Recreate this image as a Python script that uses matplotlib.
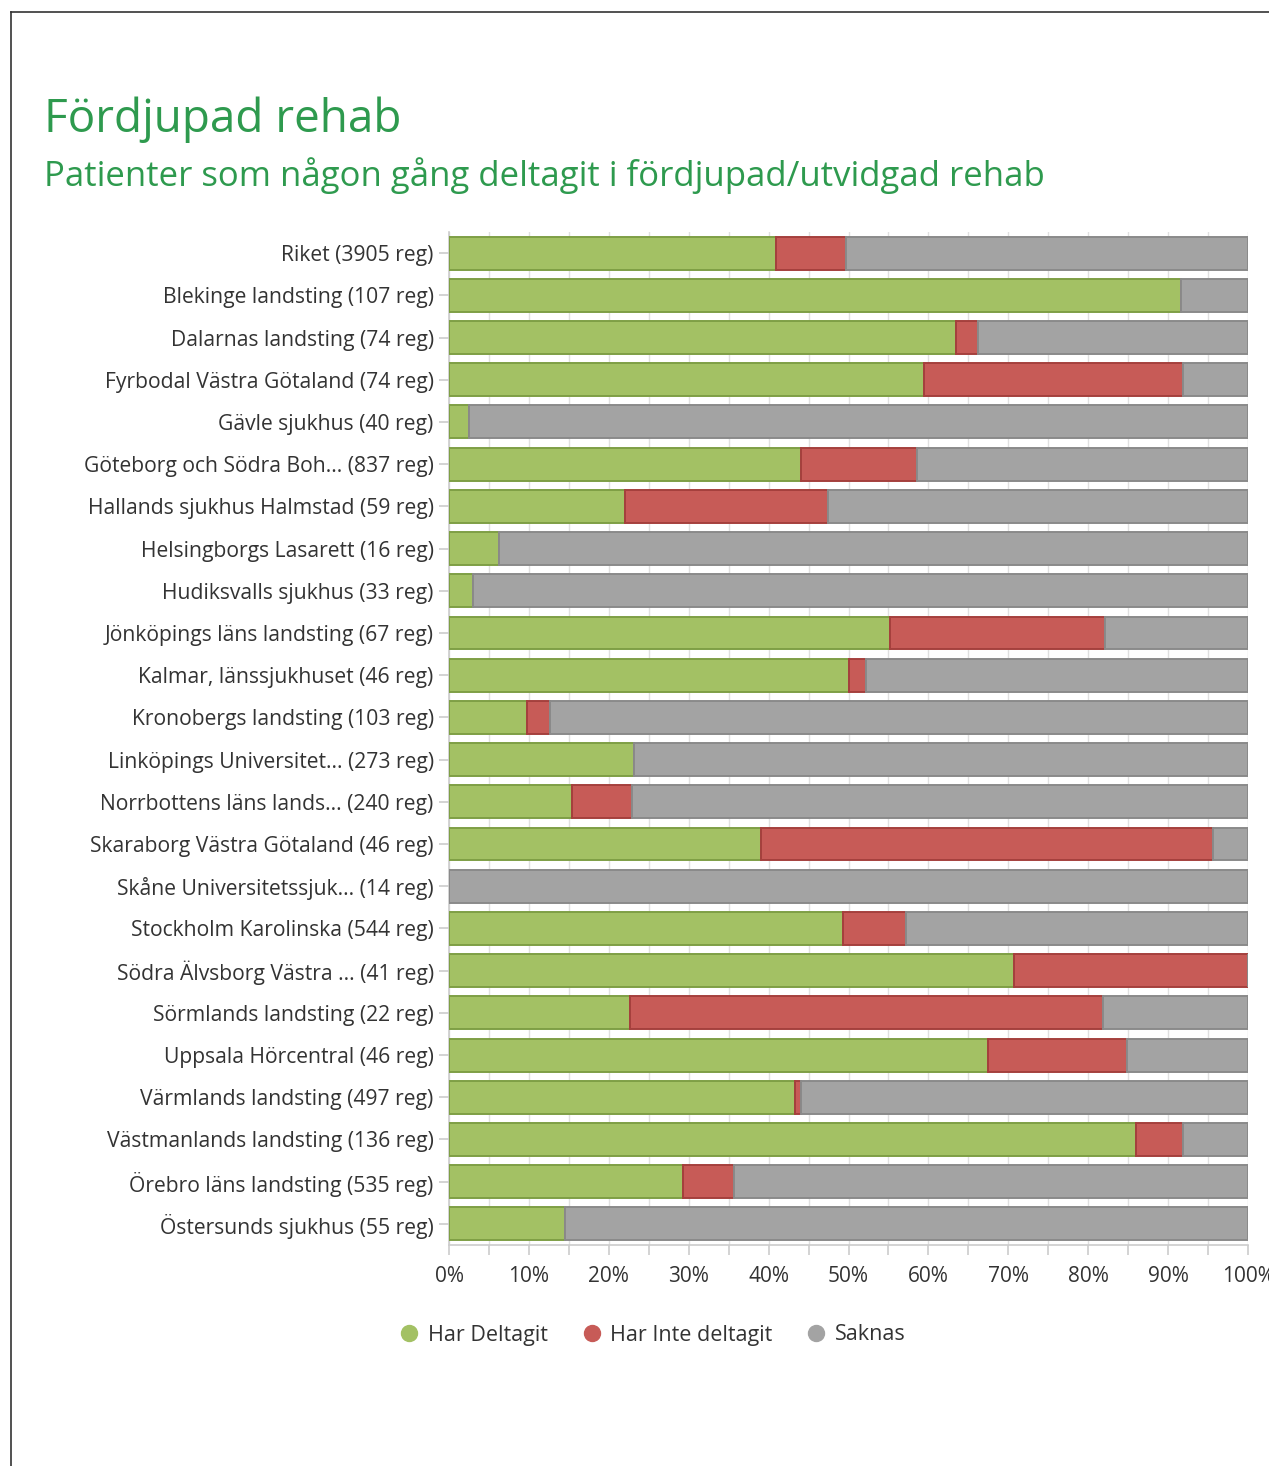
import matplotlib
matplotlib.use("Agg")
import matplotlib.pyplot as plt
from matplotlib.lines import Line2D
import numpy as np

plt.rcParams['font.family'] = ['Open Sans', 'DejaVu Sans']

categories = [
    "Riket (3905 reg)",
    "Blekinge landsting (107 reg)",
    "Dalarnas landsting (74 reg)",
    "Fyrbodal Västra Götaland (74 reg)",
    "Gävle sjukhus (40 reg)",
    "Göteborg och Södra Boh... (837 reg)",
    "Hallands sjukhus Halmstad (59 reg)",
    "Helsingborgs Lasarett (16 reg)",
    "Hudiksvalls sjukhus (33 reg)",
    "Jönköpings läns landsting (67 reg)",
    "Kalmar, länssjukhuset (46 reg)",
    "Kronobergs landsting (103 reg)",
    "Linköpings Universitet... (273 reg)",
    "Norrbottens läns lands... (240 reg)",
    "Skaraborg Västra Götaland (46 reg)",
    "Skåne Universitetssjuk... (14 reg)",
    "Stockholm Karolinska (544 reg)",
    "Södra Älvsborg Västra ... (41 reg)",
    "Sörmlands landsting (22 reg)",
    "Uppsala Hörcentral (46 reg)",
    "Värmlands landsting (497 reg)",
    "Västmanlands landsting (136 reg)",
    "Örebro läns landsting (535 reg)",
    "Östersunds sjukhus (55 reg)",
]

har_deltagit = [40.9, 91.6, 63.5, 59.5, 2.5, 44.0, 22.0, 6.3, 3.0, 55.2, 50.0, 9.7,
                23.1, 15.4, 39.1, 0.0, 49.3, 70.7, 22.7, 67.4, 43.3, 86.0, 29.3, 14.5]
har_inte = [8.8, 0.0, 2.7, 32.4, 0.0, 14.6, 25.4, 0.0, 0.0, 26.9, 2.2, 2.9,
            0.0, 7.5, 56.5, 0.0, 7.9, 29.3, 59.1, 17.4, 0.8, 5.9, 6.4, 0.0]
saknas = [100 - a - b for a, b in zip(har_deltagit, har_inte)]

series_names = ["Har Deltagit", "Har Inte deltagit", "Saknas"]
x_tick_values = list(range(0, 101, 10))
x_tick_labels = [f"{v}%" for v in x_tick_values]

fills = ["#A3C164", "#C75B57", "#A3A3A3"]
edges = ["#7E9F45", "#A5403D", "#8A8A8A"]

W, H = 1269, 1466
fig = plt.figure(figsize=(W / 100, H / 100), dpi=100)
fig.patch.set_facecolor("white")

# outer frame (left & top lines)
fig.add_artist(Line2D([11 / W, 11 / W], [0, 1 - 12 / H], transform=fig.transFigure,
                      color="#333333", lw=1.2))
fig.add_artist(Line2D([11 / W, 1], [1 - 12 / H, 1 - 12 / H], transform=fig.transFigure,
                      color="#333333", lw=1.2))

fig.text(44 / W, 1 - 120 / H, "Fördjupad rehab", color="#2E9A4E", fontsize=33,
         va="center", ha="left")
fig.text(44 / W, 1 - 176 / H, "Patienter som någon gång deltagit i fördjupad/utvidgad rehab",
         color="#2E9A4E", fontsize=25, va="center", ha="left")

ax_left, ax_right = 449, 1248
ax_top, ax_bot = 232, 1245
ax = fig.add_axes([ax_left / W, 1 - ax_bot / H, (ax_right - ax_left) / W, (ax_bot - ax_top) / H])

y = np.arange(len(categories))
left = np.zeros(len(categories))
for vals, fc, ec, name in zip([har_deltagit, har_inte, saknas], fills, edges, series_names):
    vals = np.array(vals)
    ax.barh(y, vals, left=left, height=0.78, color=fc, edgecolor=ec, linewidth=1.4,
            label=name, zorder=3)
    left = left + vals

ax.set_xlim(0, 100)
ax.set_ylim(len(categories) - 0.5, -0.5)
ax.set_yticks(y)
ax.set_yticklabels(categories, fontsize=15.2, color="#333333")
ax.set_xticks(x_tick_values)
ax.set_xticklabels(x_tick_labels, fontsize=15, color="#333333")
ax.set_xticks(np.arange(5, 100, 10), minor=True)
ax.grid(True, axis="x", which="both", color="#E0E0E0", lw=1, zorder=0)
ax.set_axisbelow(True)
for s in ["top", "right"]:
    ax.spines[s].set_visible(False)
for s in ["left", "bottom"]:
    ax.spines[s].set_color("#CCCCCC")
    ax.spines[s].set_linewidth(1.2)
ax.tick_params(axis="x", which="both", length=7, color="#CCCCCC", width=1.2, pad=8)
ax.tick_params(axis="y", length=7, color="#CCCCCC", width=1.2, pad=4)

handles = [Line2D([], [], marker="o", linestyle="none", markersize=11.5,
                  markerfacecolor=fc, markeredgecolor=fc) for fc in fills]
fig.legend(handles, series_names, loc="center", bbox_to_anchor=(651 / W, 1 - 1335 / H),
           ncol=3, frameon=False, fontsize=15.5, handletextpad=0.25, columnspacing=1.45,
           handlelength=1.2, labelcolor="#333333")

fig.savefig("out.png", dpi=100, facecolor="white")
